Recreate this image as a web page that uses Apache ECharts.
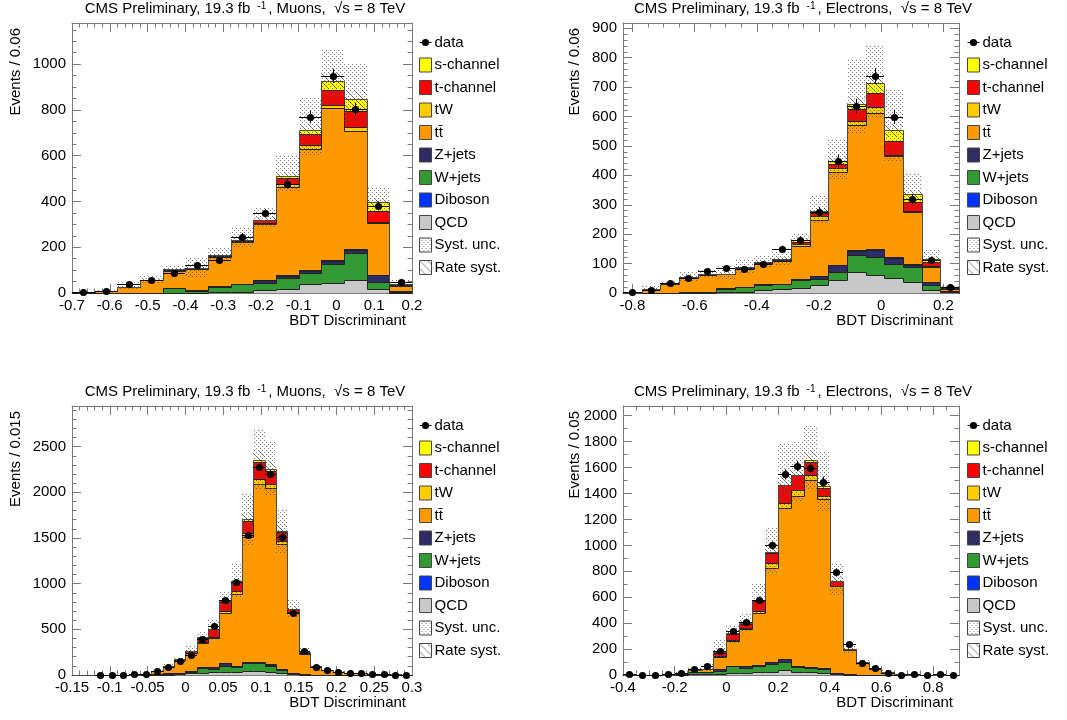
<!DOCTYPE html>
<html><head><meta charset="utf-8">
<script src="https://cdn.jsdelivr.net/npm/echarts@6/dist/echarts.min.js"></script>
<style>html,body{margin:0;padding:0;background:#fff}#c{width:1067px;height:720px}</style>
</head><body><div id="c"></div>
<script>
const FONT = "'Liberation Sans', Arial, Helvetica, sans-serif";

// ---------- Panel 1: Muons, Events / 0.06 ----------
const p1Data    = [5, 9, 40, 56, 88, 122, 144, 246, 349, 478, 769, 949, 803, 381, 48];
const p1QCD     = [0, 0, 0, 1, 2, 2, 3, 5, 12, 19, 38, 45, 56, 16, 2];
const p1Wjets   = [0, 0, 1, 1, 21, 8, 22, 33, 33, 48, 51, 81, 121, 34, 3];
const p1Zjets   = [0, 0, 0, 0, 1, 1, 5, 2, 11, 9, 8, 14, 11, 29, 3];
const p1Diboson = [0, 0, 0, 0, 0, 0, 0, 1, 1, 3, 3, 4, 4, 1, 0];
const p1TTbar   = [3, 10, 25, 53, 74, 93, 128, 181, 245, 384, 531, 663, 517, 226, 22];
const p1TW      = [0, 0, 1, 1, 2, 2, 3, 4, 6, 12, 15, 15, 18, 6, 2];
const p1TChan   = [0, 0, 1, 2, 3, 2, 4, 5, 12, 29, 51, 66, 70, 45, 4];
const p1SChan   = [0, 0, 0, 0, 0, 0, 1, 1, 1, 6, 15, 39, 51, 40, 2];
const p1SystUp  = [5, 18, 46, 78, 118, 153, 196, 289, 375, 602, 856, 1067, 1000, 460, 55];
const p1SystDn  = [1, 4, 14, 42, 90, 72, 140, 195, 285, 441, 600, 820, 740, 350, 25];
const p1Rate    = [0, 0, 1, 2, 4, 4, 6, 9, 12, 20, 28, 36, 40, 18, 2];
const p1XTicks  = [-0.7, -0.6, -0.5, -0.4, -0.3, -0.2, -0.1, 0, 0.1, 0.2];
const p1YTicks  = [0, 200, 400, 600, 800, 1000];

// ---------- Panel 2: Electrons, Events / 0.06 ----------
const p2Data    = [3, 11, 35, 52, 75, 85, 83, 99, 149, 179, 276, 449, 635, 737, 599, 319, 113, 20];
const p2QCD     = [0, 0, 0, 0, 1, 2, 4, 10, 15, 17, 26, 43, 71, 62, 52, 37, 10, 3];
const p2Wjets   = [0, 0, 1, 2, 4, 13, 16, 18, 14, 28, 23, 28, 57, 60, 48, 51, 16, 3];
const p2Zjets   = [0, 0, 0, 0, 0, 1, 1, 1, 1, 2, 9, 23, 15, 23, 20, 6, 11, 2];
const p2Diboson = [0, 0, 0, 0, 0, 0, 0, 1, 1, 1, 1, 1, 3, 5, 1, 6, 1, 0];
const p2TTbar   = [1, 12, 31, 48, 55, 47, 61, 70, 79, 111, 188, 315, 425, 463, 344, 176, 50, 7];
const p2TW      = [0, 0, 1, 2, 2, 1, 2, 2, 2, 6, 15, 14, 15, 18, 5, 4, 3, 1];
const p2TChan   = [0, 0, 1, 1, 1, 1, 2, 2, 3, 7, 9, 15, 39, 50, 48, 30, 14, 2];
const p2SChan   = [0, 0, 0, 1, 1, 1, 2, 2, 2, 8, 8, 10, 17, 32, 36, 26, 12, 2];
const p2SystUp  = [2, 23, 42, 75, 79, 91, 111, 128, 143, 202, 329, 520, 792, 840, 695, 404, 147, 28];
const p2SystDn  = [0, 4, 27, 38, 52, 48, 68, 86, 95, 160, 235, 385, 540, 600, 450, 285, 92, 13];
const p2Rate    = [0, 0, 1, 2, 2, 2, 3, 4, 4, 7, 11, 18, 26, 28, 22, 13, 5, 1];
const p2XTicks  = [-0.8, -0.6, -0.4, -0.2, 0, 0.2];
const p2YTicks  = [0, 100, 200, 300, 400, 500, 600, 700, 800, 900];

// ---------- Panel 3: Muons, Events / 0.015 ----------
const p3Data    = [null, null, 0, 0, 0, 10, 10, 40, 86, 150, 215, 390, 532, 816, 1013, 1530, 2280, 2200, 1516, 682, 259, 87, 51, 38, 20, 18, 11, 11, 4, 4];
const p3QCD     = [0, 0, 0, 0, 0, 0, 1, 2, 4, 11, 18, 22, 29, 36, 36, 47, 47, 36, 22, 7, 3, 1, 1, 0, 0, 0, 0, 0, 0, 0];
const p3Wjets   = [0, 0, 0, 0, 0, 1, 2, 5, 11, 11, 15, 55, 40, 66, 51, 81, 81, 66, 36, 8, 2, 1, 0, 1, 0, 0, 0, 0, 0, 0];
const p3Zjets   = [0, 0, 0, 0, 0, 0, 0, 1, 2, 3, 5, 10, 15, 26, 8, 11, 7, 11, 11, 7, 2, 1, 1, 0, 0, 0, 0, 0, 0, 0];
const p3Diboson = [0, 0, 0, 0, 0, 0, 0, 0, 1, 1, 1, 2, 2, 2, 2, 3, 3, 2, 1, 1, 0, 0, 0, 0, 0, 0, 0, 0, 0, 0];
const p3TTbar   = [0, 0, 0, 0, 2, 3, 6, 34, 74, 134, 201, 261, 319, 548, 792, 1374, 1954, 1930, 1366, 662, 228, 85, 50, 35, 25, 19, 13, 9, 5, 3];
const p3TW      = [0, 0, 0, 0, 0, 0, 0, 1, 2, 3, 6, 10, 15, 22, 30, 36, 55, 51, 29, 8, 3, 1, 1, 1, 1, 0, 0, 0, 0, 0];
const p3TChan   = [0, 0, 0, 0, 0, 0, 1, 2, 5, 6, 17, 50, 80, 100, 100, 135, 190, 140, 98, 25, 8, 5, 2, 1, 1, 1, 1, 1, 1, 1];
const p3SChan   = [0, 0, 0, 0, 0, 0, 0, 0, 1, 1, 2, 5, 3, 5, 5, 19, 18, 20, 15, 4, 2, 1, 0, 0, 0, 0, 0, 0, 0, 0];
const p3SystUp  = [0, 0, 0, 0, 3, 6, 14, 55, 120, 200, 313, 477, 598, 911, 1217, 1990, 2690, 2555, 1815, 816, 291, 112, 66, 46, 33, 25, 18, 13, 8, 5];
const p3SystDn  = [0, 0, 0, 0, 1, 2, 6, 35, 80, 140, 220, 360, 420, 700, 840, 1420, 2030, 1960, 1334, 630, 205, 78, 44, 30, 21, 15, 10, 7, 4, 3];
const p3Rate    = [0, 0, 0, 0, 0, 0, 0, 2, 4, 7, 10, 16, 20, 32, 40, 68, 94, 90, 63, 29, 10, 4, 2, 1, 1, 1, 0, 0, 0, 0];
const p3XTicks  = [-0.15, -0.1, -0.05, 0, 0.05, 0.1, 0.15, 0.2, 0.25, 0.3];
const p3YTicks  = [0, 500, 1000, 1500, 2000, 2500];

// ---------- Panel 4: Electrons, Events / 0.05 ----------
const p4Data    = [5, 0, 0, 5, 18, 50, 70, 188, 343, 412, 582, 999, 1548, 1612, 1598, 1492, 793, 241, 92, 52, 17, 0, 5, 0, 5, 0];
const p4QCD     = [0, 0, 0, 0, 2, 5, 8, 10, 15, 15, 21, 26, 36, 23, 23, 18, 5, 1, 0, 0, 0, 0, 0, 0, 0, 0];
const p4Wjets   = [0, 0, 0, 0, 8, 16, 15, 18, 52, 39, 46, 56, 62, 39, 28, 28, 8, 2, 1, 0, 0, 0, 0, 0, 0, 0];
const p4Zjets   = [0, 0, 0, 0, 1, 2, 2, 18, 5, 13, 10, 16, 25, 10, 8, 8, 5, 1, 0, 0, 0, 0, 0, 0, 0, 0];
const p4Diboson = [0, 0, 0, 0, 0, 0, 0, 1, 1, 1, 1, 2, 2, 1, 1, 1, 0, 0, 0, 0, 0, 0, 0, 0, 0, 0];
const p4TTbar   = [0, 0, 0, 3, 4, 15, 21, 92, 186, 286, 400, 724, 1161, 1311, 1447, 1305, 665, 186, 92, 48, 24, 4, 1, 1, 0, 0];
const p4TW      = [0, 0, 0, 0, 0, 1, 1, 8, 10, 10, 12, 39, 44, 44, 33, 18, 6, 2, 1, 1, 0, 0, 0, 0, 0, 0];
const p4TChan   = [0, 0, 0, 0, 0, 1, 2, 25, 45, 30, 77, 80, 132, 112, 106, 67, 33, 7, 3, 2, 1, 0, 0, 0, 0, 0];
const p4SChan   = [0, 0, 0, 0, 0, 0, 1, 3, 10, 6, 13, 4, 4, 3, 13, 16, 5, 1, 1, 0, 1, 0, 0, 0, 0, 0];
const p4SystUp  = [0, 0, 0, 5, 25, 60, 85, 272, 375, 478, 703, 1132, 1792, 1800, 1928, 1730, 863, 246, 120, 65, 35, 8, 3, 2, 1, 1];
const p4SystDn  = [0, 0, 0, 1, 8, 25, 30, 130, 250, 330, 470, 790, 1270, 1338, 1433, 1261, 620, 160, 80, 40, 18, 3, 0, 0, 0, 0];
const p4Rate    = [0, 0, 0, 0, 1, 2, 2, 7, 13, 16, 23, 38, 58, 62, 66, 58, 29, 8, 4, 2, 1, 0, 0, 0, 0, 0];
const p4XTicks  = [-0.4, -0.2, 0, 0.2, 0.4, 0.6, 0.8];
const p4YTicks  = [0, 200, 400, 600, 800, 1000, 1200, 1400, 1600, 1800, 2000];

// binning (histogram x edges)
const binStart = [-0.7, -0.83, -0.15, -0.4];
const binWidth = [0.06, 0.06, 0.015, 0.05];

const channelText = ['Muons', 'Electrons', 'Muons', 'Electrons'];
const yTitleText = ['Events / 0.06', 'Events / 0.06', 'Events / 0.015', 'Events / 0.05'];
const compNames = ['QCD', 'W+jets', 'Z+jets', 'Diboson', 'tt\u0304', 'tW', 't-channel', 's-channel'];
const legendOrder = ['data', 's-channel', 't-channel', 'tW', 'tt\u0304', 'Z+jets', 'W+jets', 'Diboson', 'QCD', 'Syst. unc.', 'Rate syst.'];

// ---------- layout / style ----------
const compColors = ['#c8c8c8', '#339933', '#2d2d63', '#0033ff', '#ff9900', '#ffcc00', '#ff0000', '#ffff00'];
const gridBox = [
  {left: 72, top: 23, width: 340, height: 270},
  {left: 623, top: 23, width: 336, height: 270},
  {left: 72, top: 406, width: 340, height: 269},
  {left: 623, top: 406, width: 336, height: 269}
];
const xRange = [[-0.7, 0.2], [-0.83, 0.25], [-0.15, 0.3], [-0.4, 0.9]];
const yMax = [1180, 918, 2945, 2075];
const xMinorStep = [0.02, 0.05, 0.01, 0.05];
const yMinorStep = [50, 20, 100, 100];

const panels = [
  {data: p1Data, comps: [p1QCD, p1Wjets, p1Zjets, p1Diboson, p1TTbar, p1TW, p1TChan, p1SChan], up: p1SystUp, dn: p1SystDn, rate: p1Rate, xt: p1XTicks, yt: p1YTicks},
  {data: p2Data, comps: [p2QCD, p2Wjets, p2Zjets, p2Diboson, p2TTbar, p2TW, p2TChan, p2SChan], up: p2SystUp, dn: p2SystDn, rate: p2Rate, xt: p2XTicks, yt: p2YTicks},
  {data: p3Data, comps: [p3QCD, p3Wjets, p3Zjets, p3Diboson, p3TTbar, p3TW, p3TChan, p3SChan], up: p3SystUp, dn: p3SystDn, rate: p3Rate, xt: p3XTicks, yt: p3YTicks},
  {data: p4Data, comps: [p4QCD, p4Wjets, p4Zjets, p4Diboson, p4TTbar, p4TW, p4TChan, p4SChan], up: p4SystUp, dn: p4SystDn, rate: p4Rate, xt: p4XTicks, yt: p4YTicks}
];

// fill patterns
function dotCanvas() {
  const c = document.createElement('canvas'); c.width = 4; c.height = 4;
  const g = c.getContext('2d');
  g.fillStyle = 'rgba(80,80,80,0.75)'; g.fillRect(0, 0, 1, 1); g.fillRect(2, 2, 1, 1);
  return c;
}
function hatchCanvas() {
  const c = document.createElement('canvas'); c.width = 8; c.height = 8;
  const g = c.getContext('2d');
  g.fillStyle = 'rgba(70,70,70,0.7)';
  for (let i = 0; i < 8; i++) g.fillRect(i, i, 1, 1);
  return c;
}
const dotPattern = {image: dotCanvas(), repeat: 'repeat'};
const hatchPattern = {image: hatchCanvas(), repeat: 'repeat'};

function between(min, max, step, skip) {
  const out = [];
  const s = Math.ceil(min / step - 1e-9);
  for (let k = s; k * step <= max + 1e-9; k++) {
    const v = +(k * step).toFixed(6);
    if (!skip.some(m => Math.abs(m - v) < 1e-9)) out.push(v);
  }
  return out;
}
const fmtX = v => String(+(+v).toFixed(3));
const fmtY = v => String(Math.round(v));
const R = Math.round;

function axisDef(p, pos, ticks, showLine, showLabel, len, isX) {
  return {
    type: 'value', gridIndex: p, position: pos,
    min: isX ? xRange[p][0] : 0, max: isX ? xRange[p][1] : yMax[p],
    axisLine: {show: showLine, onZero: false, lineStyle: {color: '#7a7a7a', width: 1}},
    axisTick: {show: true, inside: true, length: len, customValues: ticks, lineStyle: {color: '#7a7a7a', width: 1}},
    axisLabel: {show: showLabel, customValues: ticks, formatter: isX ? fmtX : fmtY, margin: isX ? 5 : 6,
      fontSize: 15, fontFamily: FONT, color: '#000', hideOverlap: false},
    splitLine: {show: false}, minorTick: {show: false}, silent: true
  };
}
function rectBetween(api, x0, x1, lo, hi, fill) {
  const a = api.coord([x0, lo]), b = api.coord([x1, hi]);
  const L = R(a[0]), Rt = R(b[0]), T = R(b[1]), B = R(a[1]);
  if (B - T < 1) return null;
  return {type: 'rect', shape: {x: L, y: T, width: Rt - L, height: B - T}, style: {fill: fill}};
}

const xAxes = [], yAxes = [], series = [], graphics = [];
panels.forEach((P, p) => {
  const xMin = between(xRange[p][0], xRange[p][1], xMinorStep[p], P.xt);
  const yMin = between(0, yMax[p], yMinorStep[p], P.yt);
  ['bottom', 'top'].forEach(pos => {
    xAxes.push(axisDef(p, pos, P.xt, true, pos === 'bottom', 9, true));
    xAxes.push(axisDef(p, pos, xMin, false, false, 4.5, true));
  });
  ['left', 'right'].forEach(pos => {
    yAxes.push(axisDef(p, pos, P.yt, true, pos === 'left', 9, false));
    yAxes.push(axisDef(p, pos, yMin, false, false, 4.5, false));
  });
  const xi = p * 4, yi = p * 4;
  const n = P.comps[0].length;
  const edge = i => +(binStart[p] + i * binWidth[p]).toFixed(6);

  // stacked components
  const cum = new Array(n).fill(0);
  const levels = [];
  P.comps.forEach((arr, c) => {
    const items = [];
    for (let i = 0; i < n; i++) {
      items.push([edge(i), edge(i + 1), cum[i], cum[i] + arr[i]]);
      cum[i] += arr[i];
    }
    levels.push(cum.slice());
    const color = compColors[c];
    series.push({
      type: 'custom', name: compNames[c], xAxisIndex: xi, yAxisIndex: yi, z: 2, silent: true,
      itemStyle: {color: color},
      encode: {x: [0, 1], y: [2, 3]},
      data: items,
      renderItem: (params, api) => rectBetween(api, api.value(0), api.value(1), api.value(2), api.value(3), color)
    });
  });
  const total = levels[levels.length - 1];

  // outlines of each stacked histogram
  const outItems = [];
  for (let i = 0; i < n; i++) outItems.push([edge(i), edge(i + 1), total[i]]);
  series.push({
    type: 'custom', xAxisIndex: xi, yAxisIndex: yi, z: 3, silent: true,
    encode: {x: [0, 1], y: 2},
    data: outItems,
    renderItem: (params, api) => {
      const i = params.dataIndex;
      const x0 = api.value(0), x1 = api.value(1);
      const kids = [];
      levels.forEach((lv, k) => {
        const col = k === levels.length - 1 ? '#4a4a4a' : '#222';
        const a = api.coord([x0, lv[i]]), b = api.coord([x1, lv[i]]);
        const prev = api.coord([x0, i > 0 ? lv[i - 1] : 0]);
        const X0 = R(a[0]) + 0.5, X1 = R(b[0]) + 0.5, Y = R(a[1]) + 0.5, Yp = R(prev[1]) + 0.5;
        kids.push({type: 'line', shape: {x1: X0, y1: Y, x2: X1, y2: Y}, style: {stroke: col, lineWidth: 1}});
        kids.push({type: 'line', shape: {x1: X0, y1: Yp, x2: X0, y2: Y}, style: {stroke: col, lineWidth: 1}});
        if (i === n - 1) {
          const z0 = api.coord([x1, 0]);
          kids.push({type: 'line', shape: {x1: X1, y1: Y, x2: X1, y2: R(z0[1]) + 0.5}, style: {stroke: col, lineWidth: 1}});
        }
      });
      return {type: 'group', children: kids};
    }
  });

  // systematic uncertainty band
  const sysItems = [];
  for (let i = 0; i < n; i++) sysItems.push([edge(i), edge(i + 1), P.dn[i], P.up[i]]);
  series.push({
    type: 'custom', name: 'Syst. unc.', xAxisIndex: xi, yAxisIndex: yi, z: 4, silent: true,
    itemStyle: {color: dotPattern},
    encode: {x: [0, 1], y: [2, 3]},
    data: sysItems,
    renderItem: (params, api) => rectBetween(api, api.value(0), api.value(1), api.value(2), api.value(3), dotPattern)
  });
  // rate systematic band
  const rateItems = [];
  for (let i = 0; i < n; i++) rateItems.push([edge(i), edge(i + 1), total[i] - P.rate[i], total[i] + P.rate[i]]);
  series.push({
    type: 'custom', name: 'Rate syst.', xAxisIndex: xi, yAxisIndex: yi, z: 4, silent: true,
    itemStyle: {color: hatchPattern},
    encode: {x: [0, 1], y: [2, 3]},
    data: rateItems,
    renderItem: (params, api) => rectBetween(api, api.value(0), api.value(1), api.value(2), api.value(3), hatchPattern)
  });
  // data points with error bars
  const dItems = [];
  for (let i = 0; i < n; i++) {
    if (P.data[i] === null) continue;
    dItems.push([edge(i), edge(i + 1), P.data[i], Math.sqrt(P.data[i])]);
  }
  series.push({
    type: 'custom', name: 'data', xAxisIndex: xi, yAxisIndex: yi, z: 6, silent: true,
    itemStyle: {color: '#000'},
    encode: {x: [0, 1], y: 2},
    data: dItems,
    renderItem: (params, api) => {
      const x0 = api.value(0), x1 = api.value(1), v = api.value(2), e = api.value(3);
      const xc = (x0 + x1) / 2;
      const c = api.coord([xc, v]);
      const l = api.coord([x0, v]), r = api.coord([x1, v]);
      const t = api.coord([xc, v + e]), bt = api.coord([xc, Math.max(0, v - e)]);
      const cx = R(c[0]) + 0.5, cy = R(c[1]) + 0.5;
      return {type: 'group', children: [
        {type: 'line', shape: {x1: R(l[0]), y1: cy, x2: R(r[0]), y2: cy}, style: {stroke: '#000', lineWidth: 1}},
        {type: 'line', shape: {x1: cx, y1: t[1], x2: cx, y2: bt[1]}, style: {stroke: '#000', lineWidth: 1}},
        {type: 'circle', shape: {cx: cx, cy: cy, r: 3.6}, style: {fill: '#000'}}
      ]};
    }
  });

  // texts: title, axis titles
  const g = gridBox[p];
  graphics.push({
    type: 'text', x: g.left + (p % 2 === 0 ? 173 : 180), y: g.top - 14, silent: true,
    style: {
      text: '{a|CMS Preliminary, 19.3 fb }{s| -1}{a|, ' + channelText[p] + ',  \u221As = 8 TeV}',
      align: 'center', verticalAlign: 'middle',
      rich: {a: {fontSize: 15, fontFamily: FONT, fill: '#000'},
             s: {fontSize: 10, fontFamily: FONT, fill: '#000', verticalAlign: 'top', padding: [0, 2, 0, 0]}}
    }
  });
  graphics.push({
    type: 'text', x: (p % 2 === 0 ? 16 : 575), y: g.top + 5, rotation: Math.PI / 2, silent: true,
    style: {text: yTitleText[p], font: '15px ' + FONT, fill: '#000', align: 'right', verticalAlign: 'middle'}
  });
  graphics.push({
    type: 'text', x: g.left + g.width - 6, y: g.top + g.height + 28, silent: true,
    style: {text: 'BDT Discriminant', font: '15px ' + FONT, fill: '#000', align: 'right', verticalAlign: 'middle'}
  });
});

const dataIcon = 'path://M6,0L6.01,0L6.01,0.01Z M0,6.5L12,6.5L12,7.5L0,7.5Z M9.6,7A3.6,3.6 0 1,1 2.4,7A3.6,3.6 0 1,1 9.6,7Z M6,14L6.01,14L6.01,13.99Z';
const legendData = legendOrder.map(nm => {
  if (nm === 'data') return {name: nm, icon: dataIcon, itemStyle: {color: '#000', borderWidth: 0}};
  if (nm === 'Syst. unc.') return {name: nm, itemStyle: {color: dotPattern}};
  if (nm === 'Rate syst.') return {name: nm, itemStyle: {color: hatchPattern}};
  return {name: nm};
});
const legendPos = [[419, 35], [967, 35], [419, 418], [967, 418]];
const legends = legendPos.map(([l, t]) => ({
  orient: 'vertical', left: l, top: t, padding: 0, itemWidth: 12, itemHeight: 14, itemGap: 7.5,
  icon: 'rect', selectedMode: false, data: legendData,
  itemStyle: {borderColor: '#444', borderWidth: 1},
  textStyle: {fontSize: 15, fontFamily: FONT, color: '#000', lineHeight: 14, padding: [0, 0, 0, -2]}
}));

const chart = echarts.init(document.getElementById('c'), null, {renderer: 'canvas', width: 1067, height: 720});
chart.setOption({
  animation: false,
  backgroundColor: '#fff',
  grid: gridBox.map(g => Object.assign({containLabel: false}, g)),
  xAxis: xAxes,
  yAxis: yAxes,
  legend: legends,
  series: series,
  graphic: graphics
});
</script></body></html>
